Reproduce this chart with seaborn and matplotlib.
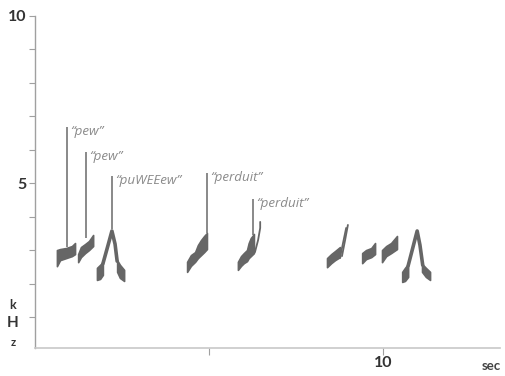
import numpy as np
import pandas as pd
import matplotlib
matplotlib.use("Agg")
import matplotlib.pyplot as plt
import seaborn as sns

# ---- data: spectrogram bands (time in sec, lower / upper frequency in kHz) ----
pew1_t = [0.63, 0.72, 0.89, 1.06, 1.15]
pew1_lo = [2.53, 2.71, 2.77, 2.83, 2.89]
pew1_hi = [3.01, 3.04, 3.07, 3.13, 3.22]

pew2_t = [1.24, 1.32, 1.44, 1.55, 1.67]
pew2_lo = [2.65, 2.80, 2.92, 3.01, 3.13]
pew2_hi = [2.89, 3.10, 3.19, 3.28, 3.46]

puwee_lfoot_t = [1.78, 1.87, 1.95]
puwee_lfoot_lo = [2.12, 2.15, 2.27]
puwee_lfoot_hi = [2.48, 2.57, 2.66]
puwee_rfoot_t = [2.36, 2.44, 2.56]
puwee_rfoot_lo = [2.36, 2.18, 2.09]
puwee_rfoot_hi = [2.71, 2.57, 2.42]

perd1_t = [4.37, 4.48, 4.60, 4.68, 4.77, 4.86, 4.94]
perd1_lo = [2.36, 2.54, 2.66, 2.77, 2.86, 2.95, 3.04]
perd1_hi = [2.66, 2.86, 2.95, 3.16, 3.31, 3.43, 3.52]

perd2_t = [5.83, 5.92, 6.00, 6.09, 6.14, 6.20, 6.29]
perd2_lo = [2.42, 2.54, 2.62, 2.68, 2.77, 2.83, 2.92]
perd2_hi = [2.66, 2.83, 2.92, 3.01, 3.22, 3.37, 3.49]

perd3_t = [8.39, 8.51, 8.62, 8.76]
perd3_lo = [2.50, 2.62, 2.71, 2.80]
perd3_hi = [2.77, 2.89, 2.98, 3.10]

pew3_t = [9.40, 9.51, 9.66, 9.77]
pew3_lo = [2.62, 2.74, 2.80, 2.89]
pew3_hi = [2.92, 3.01, 3.07, 3.22]

pew4_t = [9.97, 10.09, 10.23, 10.40]
pew4_lo = [2.65, 2.83, 2.92, 3.04]
pew4_hi = [3.01, 3.13, 3.22, 3.43]

puwee2_lfoot_t = [10.55, 10.63, 10.72]
puwee2_lfoot_lo = [2.06, 2.09, 2.21]
puwee2_lfoot_hi = [2.36, 2.48, 2.60]
puwee2_rfoot_t = [11.12, 11.23, 11.35]
puwee2_rfoot_lo = [2.36, 2.21, 2.12]
puwee2_rfoot_hi = [2.60, 2.48, 2.36]

# ---- data: narrow frequency sweeps (time in sec, frequency in kHz) ----
puwee_arch_t = [1.95, 2.10, 2.21, 2.30, 2.36]
puwee_arch_f = [2.60, 3.16, 3.58, 3.19, 2.68]

perd2_thread_t = [6.32, 6.41, 6.47, 6.47]
perd2_thread_f = [2.95, 3.31, 3.67, 3.85]

perd3_thread_a_t = [8.76, 8.85, 8.94]
perd3_thread_a_f = [2.77, 3.22, 3.67]
perd3_thread_b_t = [8.82, 8.91, 8.99]
perd3_thread_b_f = [2.83, 3.31, 3.76]

puwee2_arch_t = [10.72, 10.86, 10.98, 11.06, 11.14]
puwee2_arch_f = [2.54, 3.10, 3.58, 3.16, 2.56]

# labels: text, leader x (sec), leader top / bottom (kHz)
label_text = ["\u201cpew\u201d", "\u201cpew\u201d", "\u201cpuWEEew\u201d",
              "\u201cperduit\u201d", "\u201cperduit\u201d"]
label_x = [0.92, 1.47, 2.21, 4.94, 6.26]
label_top = [6.68, 5.94, 5.22, 5.31, 4.53]
label_bottom = [3.10, 3.37, 3.64, 3.52, 3.46]

yticks = [1, 2, 3, 4, 5, 6, 7, 8, 9, 10]
ytick_labels = ["", "", "", "", "5", "", "", "", "", "10"]
xticks = [5, 10]
xtick_labels = ["", "10"]

bands = [
    ("pew1", pew1_t, pew1_lo, pew1_hi),
    ("pew2", pew2_t, pew2_lo, pew2_hi),
    ("pwl", puwee_lfoot_t, puwee_lfoot_lo, puwee_lfoot_hi),
    ("pwr", puwee_rfoot_t, puwee_rfoot_lo, puwee_rfoot_hi),
    ("p1", perd1_t, perd1_lo, perd1_hi),
    ("p2", perd2_t, perd2_lo, perd2_hi),
    ("p3", perd3_t, perd3_lo, perd3_hi),
    ("pew3", pew3_t, pew3_lo, pew3_hi),
    ("pew4", pew4_t, pew4_lo, pew4_hi),
    ("pw2l", puwee2_lfoot_t, puwee2_lfoot_lo, puwee2_lfoot_hi),
    ("pw2r", puwee2_rfoot_t, puwee2_rfoot_lo, puwee2_rfoot_hi),
]
sweeps = [
    ("a1", puwee_arch_t, puwee_arch_f, "mid"),
    ("t2", perd2_thread_t, perd2_thread_f, "thin"),
    ("t3a", perd3_thread_a_t, perd3_thread_a_f, "thin"),
    ("t3b", perd3_thread_b_t, perd3_thread_b_f, "thin"),
    ("a2", puwee2_arch_t, puwee2_arch_f, "mid"),
]

band_rows = []
for name, ts, los, his in bands:
    for t, lo, hi in zip(ts, los, his):
        band_rows.append({"part": name, "t": t, "f": lo})
        band_rows.append({"part": name, "t": t, "f": hi})
band_df = pd.DataFrame(band_rows)

sweep_rows = []
for name, ts, fs, w in sweeps:
    for t, f in zip(ts, fs):
        sweep_rows.append({"part": name, "t": t, "f": f, "w": w})
sweep_df = pd.DataFrame(sweep_rows)

sns.set_theme(style="white")
plt.rcParams["font.family"] = ["Lato", "DejaVu Sans"]
plt.rcParams["lines.solid_capstyle"] = "round"
plt.rcParams["lines.solid_joinstyle"] = "round"

INK = "#666666"
fig = plt.figure(figsize=(5.06, 3.76), dpi=100)
ax = fig.add_axes([35 / 506, (376 - 348) / 376, 465 / 506, (348 - 15.7) / 376])

palette = {p: INK for p in band_df["part"].unique()}
sns.lineplot(data=band_df, x="t", y="f", hue="part", palette=palette,
             estimator="mean", errorbar=("pi", 100), linewidth=0,
             err_kws={"alpha": 1, "linewidth": 1.2, "edgecolor": INK},
             legend=False, ax=ax)

sns.lineplot(data=sweep_df, x="t", y="f", units="part", size="w",
             sizes={"mid": 2.6, "thin": 1.3},
             estimator=None, sort=False, color=INK, legend=False, ax=ax)

for txt, lx, top, bot in zip(label_text, label_x, label_top, label_bottom):
    ax.plot([lx, lx], [bot, top], color="#6a6a6a", lw=1.1, solid_capstyle="butt")
    ax.annotate(txt, xy=(lx, top), xytext=(2.5, -3.4), textcoords="offset points",
                ha="left", va="center", fontsize=9.6, style="italic",
                color="#8a8a8a", family=["Open Sans", "DejaVu Sans"])

ax.set_xlim(0, 13.36)
ax.set_ylim(0.09, 10)
ax.set_yticks(yticks)
ax.set_yticklabels(ytick_labels)
ax.set_xticks(xticks)
ax.set_xticklabels(xtick_labels)
ax.set_xlabel("")
ax.set_ylabel("")
for s in ["top", "right"]:
    ax.spines[s].set_visible(False)
ax.spines["left"].set_color("#a0a0a0")
ax.spines["left"].set_linewidth(1.0)
ax.spines["bottom"].set_color("#c8c8c8")
ax.spines["bottom"].set_linewidth(1.2)
ax.tick_params(axis="y", direction="out", length=4, width=0.8, color="#a0a0a0",
               pad=2, labelsize=11.5, labelcolor="#333333", left=True)
ax.tick_params(axis="x", direction="out", length=5, width=0.8, color="#a0a0a0",
               pad=1, labelsize=11.5, labelcolor="#333333", bottom=True)
for lab in ax.get_yticklabels() + ax.get_xticklabels():
    lab.set_fontweight("bold")

fig.text(13 / 506, 1 - 305 / 376, "k", ha="center", va="center", fontsize=9,
         fontweight="bold", color="#333333")
fig.text(13 / 506, 1 - 323 / 376, "H", ha="center", va="center", fontsize=11,
         fontweight="bold", color="#333333")
fig.text(13 / 506, 1 - 342 / 376, "z", ha="center", va="center", fontsize=8,
         fontweight="bold", color="#333333")
fig.text(491 / 506, 1 - 366 / 376, "sec", ha="center", va="center", fontsize=9.5,
         fontweight="bold", color="#444444")

fig.savefig("out.png", dpi=100)
